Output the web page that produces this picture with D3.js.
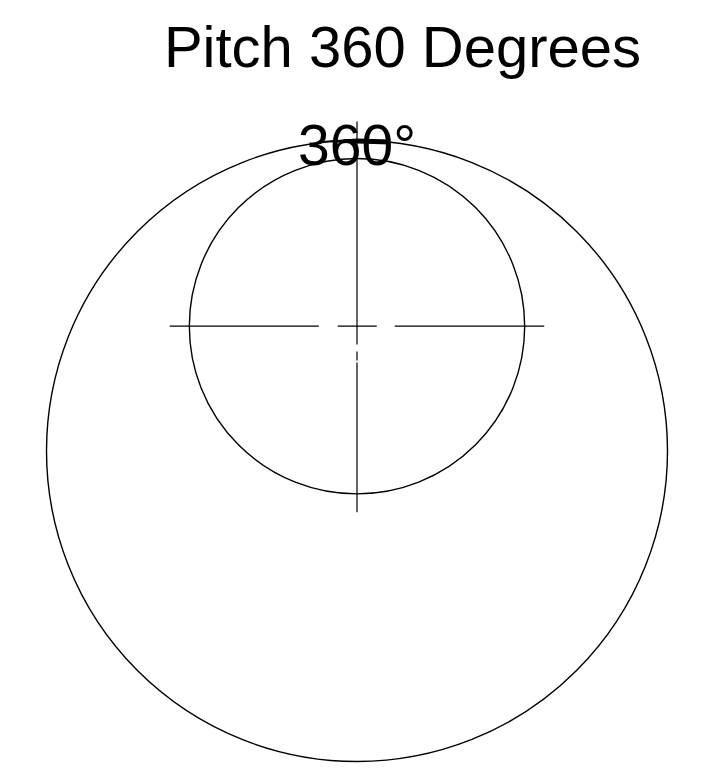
<!DOCTYPE html>
<html>
<head>
<meta charset="utf-8">
<script src="https://cdn.jsdelivr.net/npm/d3@7"></script>
<style>
  body { margin: 0; background: #fff; }
  text { font-family: "Liberation Sans", Arial, sans-serif; fill: #000; }
</style>
</head>
<body>
<svg id="gauge"></svg>
<script>
// chart values (gauge units, outer ring radius = 1)
const titleText = "Pitch 360 Degrees";
const pitchDeg = [360];
const ringRadii = [1, 0.54];
const ringCentersY = [0, 0.402];
const crossHalfWidth = [0.603];
const crossYRange = [1.061, -0.197];

const width = 716;
const height = 784;
const cx = 357, cy = 451, R = 310.5;

const svg = d3.select('#gauge')
    .attr('width', width)
    .attr('height', height);

const xScale = d3.scaleLinear().domain([-1, 1]).range([cx - R, cx + R]);
const yScale = d3.scaleLinear().domain([-1, 1]).range([cy + R, cy - R]);
const rScale = d3.scaleLinear().domain([0, 1]).range([0, R]);

// title
svg.append('text')
    .attr('x', 402.5)
    .attr('y', 67)
    .attr('text-anchor', 'middle')
    .style('font-size', '58px')
    .text(titleText);

// rings
svg.selectAll('.ring')
    .data(ringRadii)
    .enter()
    .append('circle')
    .attr('class', 'ring')
    .attr('cx', xScale(0))
    .attr('cy', (d, i) => yScale(ringCentersY[i]))
    .attr('r', d => rScale(d))
    .attr('fill', 'none')
    .attr('stroke', '#000')
    .attr('stroke-width', 1.4);

// crosshair
const innerY = yScale(ringCentersY[1]);
svg.append('line')
    .attr('x1', xScale(-crossHalfWidth[0]))
    .attr('x2', xScale(crossHalfWidth[0]))
    .attr('y1', innerY)
    .attr('y2', innerY)
    .attr('stroke', '#000')
    .attr('stroke-width', 1.2)
    .attr('stroke-dasharray', '149,19,39,18,150');

svg.append('line')
    .attr('x1', xScale(0))
    .attr('x2', xScale(0))
    .attr('y1', yScale(crossYRange[0]))
    .attr('y2', yScale(crossYRange[1]))
    .attr('stroke', '#000')
    .attr('stroke-width', 1.2)
    .attr('stroke-dasharray', '223,7,9,2,200');

// pitch marker on the outer ring
const angle = d3.scaleLinear().domain([0, 360]).range([0, 2 * Math.PI]);
const markers = pitchDeg.map(d => ({
    deg: d,
    x: xScale(Math.sin(angle(d))),
    y: yScale(Math.cos(angle(d)))
}));

svg.selectAll('.marker')
    .data(markers)
    .enter()
    .append('path')
    .attr('class', 'marker')
    .attr('transform', d => `translate(${d.x},${d.y})`)
    .attr('d', 'M-42,1 L0,-2 L33,-1 L33,4 L0,3 Z')
    .attr('fill', '#000');

svg.selectAll('.marker-label')
    .data(markers)
    .enter()
    .append('text')
    .attr('class', 'marker-label')
    .attr('x', d => d.x)
    .attr('y', d => d.y + 24)
    .attr('text-anchor', 'middle')
    .style('font-size', '57px')
    .text(d => d.deg + '°');
</script>
</body>
</html>
